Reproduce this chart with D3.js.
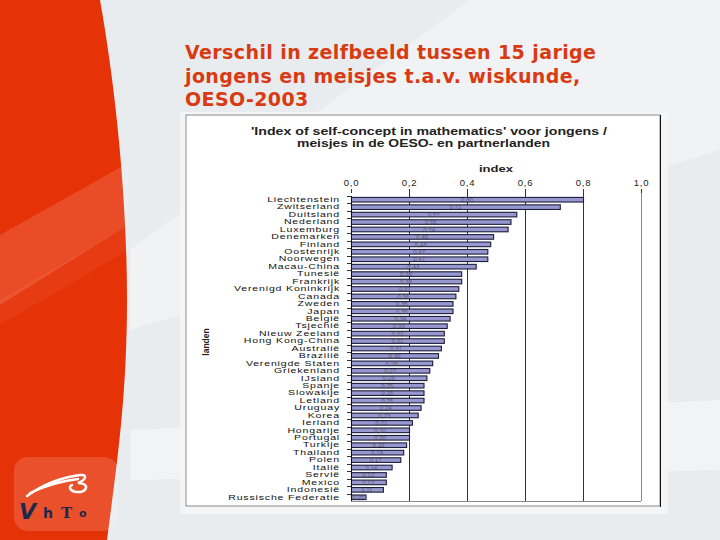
<!DOCTYPE html>
<html>
<head>
<meta charset="utf-8">
<script src="https://cdn.jsdelivr.net/npm/d3@7"></script>
<style>
  html, body { margin: 0; padding: 0; background: #e9ecef; }
  svg { display: block; }
</style>
</head>
<body>
<svg id="chart" width="720" height="540"></svg>
<script>
const countries = ["Liechtenstein","Zwitserland","Duitsland","Nederland","Luxemburg","Denemarken","Finland","Oostenrijk","Noorwegen","Macau-China","Tunesië","Frankrijk","Verenigd Koninkrijk","Canada","Zweden","Japan","België","Tsjechië","Nieuw Zeeland","Hong Kong-China","Australië","Brazilië","Verenigde Staten","Griekenland","IJsland","Spanje","Slowakije","Letland","Uruguay","Korea","Ierland","Hongarije","Portugal","Turkije","Thailand","Polen","Italië","Servië","Mexico","Indonesië","Russische Federatie"];
const values = [0.80,0.72,0.57,0.55,0.54,0.49,0.48,0.47,0.47,0.43,0.38,0.38,0.37,0.36,0.35,0.35,0.34,0.33,0.32,0.32,0.31,0.30,0.28,0.27,0.26,0.25,0.25,0.25,0.24,0.23,0.21,0.20,0.20,0.19,0.18,0.17,0.14,0.12,0.12,0.11,0.05];
const xTicks = [0,0.2,0.4,0.6,0.8,1.0];
const slideTitle = ["Verschil in zelfbeeld tussen 15 jarige","jongens en meisjes t.a.v. wiskunde,","OESO-2003"];
const chartTitle = ["'Index of self-concept in mathematics' voor jongens /","meisjes in de OESO- en partnerlanden"];
const xLabel = "index";
const yLabel = "landen";

const svg = d3.select("#chart");
const fmt = v => d3.format(".1f")(v).replace(".", ",");
const fmt2 = v => d3.format(".2f")(v).replace(".", ",");

// ---- slide background ----
svg.append("rect").attr("width",720).attr("height",540).attr("fill","#e9ecef");
svg.append("path").attr("d","M470,0 L720,0 L720,150 L130,330 L130,250 Z").attr("fill","#ffffff").attr("opacity",0.35);
svg.append("path").attr("d","M130,430 L720,400 L720,470 L130,480 Z").attr("fill","#ffffff").attr("opacity",0.4);

// red shape
svg.append("path")
  .attr("d","M0,0 H100 C116,90 127,200 127,300 C127,400 116,470 107,540 H0 Z")
  .attr("fill","#e63207");
svg.append("path")
  .attr("d","M0,235 L128,163 L128,225 L0,305 Z")
  .attr("fill","#ffffff").attr("opacity",0.13);
svg.append("path")
  .attr("d","M0,300 L128,225 L128,250 L0,325 Z")
  .attr("fill","#ffffff").attr("opacity",0.05);

// logo
svg.append("rect").attr("x",14).attr("y",457).attr("width",104).attr("height",74).attr("rx",14)
  .attr("fill","#ffffff").attr("opacity",0.15);
svg.append("path")
  .attr("d","M27,496 C45,483 65,477 80,475 C88,474 86,480 78,483 C90,483 88,493 76,492 C70,491 68,487 72,485 M30,493 C46,485 62,481 78,479")
  .attr("fill","none").attr("stroke","#ffffff").attr("stroke-width",2.5).attr("stroke-linecap","round");
const logo = svg.append("g").attr("fill","#1b2a4c").attr("font-weight","bold");
logo.append("text").attr("x",19).attr("y",519).attr("font-family","DejaVu Sans")
  .attr("font-style","italic").attr("font-size",22).text("V");
logo.append("text").attr("x",43).attr("y",518).attr("font-family","DejaVu Sans").attr("font-size",14).text("h");
logo.append("text").attr("x",61).attr("y",518).attr("font-family","DejaVu Serif").attr("font-size",15).text("T");
logo.append("text").attr("x",79).attr("y",517).attr("font-family","DejaVu Sans").attr("font-size",11).text("o");

// slide title
svg.append("g").selectAll("text").data(slideTitle).join("text")
  .attr("x",185).attr("y",(d,i)=>59 + i*23.5)
  .attr("font-family","DejaVu Sans").attr("font-weight","bold").attr("font-size",19)
  .attr("letter-spacing",0.4)
  .attr("fill","#d93a12").text(d=>d);

// ---- chart image box ----
svg.append("rect").attr("x",180).attr("y",112).attr("width",488).attr("height",402).attr("fill","#f4f5f6");
svg.append("rect").attr("x",186).attr("y",115).attr("width",474).attr("height",391)
  .attr("fill","#ffffff").attr("stroke","#8a8a8a").attr("stroke-width",1);
svg.append("line").attr("x1",660.5).attr("x2",660.5).attr("y1",115).attr("y2",507).attr("stroke","#111").attr("stroke-width",1);

const ctTitle = svg.append("g").attr("font-family","Liberation Sans, Arial").attr("font-weight","bold").attr("fill","#222");
ctTitle.append("text").attr("x",251).attr("y",135).attr("font-size",10.5).attr("textLength",356).attr("lengthAdjust","spacingAndGlyphs").text(chartTitle[0]);
ctTitle.append("text").attr("x",297).attr("y",147).attr("font-size",10.5).attr("textLength",253).attr("lengthAdjust","spacingAndGlyphs").text(chartTitle[1]);

const x = d3.scaleLinear().domain([0,1]).range([351,641]);
const y = d3.scaleBand().domain(countries).range([196,501]).paddingInner(0.38).paddingOuter(0.19);

// x label
svg.append("text").attr("x",496).attr("y",172).attr("text-anchor","middle")
  .attr("font-family","Liberation Sans, Arial").attr("font-weight","bold").attr("font-size",9.5)
  .attr("textLength",34).attr("lengthAdjust","spacingAndGlyphs")
  .attr("fill","#222").text(xLabel);

// grid
svg.append("g").selectAll("line").data(xTicks.filter(d=>d>0)).join("line")
  .attr("x1",d=>Math.round(x(d))+0.5).attr("x2",d=>Math.round(x(d))+0.5)
  .attr("y1",193).attr("y2",501)
  .attr("stroke",d=>d===1?"#8a8a8a":"#333").attr("stroke-width",1);
svg.append("line").attr("x1",351).attr("x2",641).attr("y1",501.5).attr("y2",501.5).attr("stroke","#8a8a8a");

// top axis
const gx = svg.append("g").attr("transform","translate(0,193)")
  .call(d3.axisTop(x).tickValues(xTicks).tickFormat(fmt).tickSize(4).tickPadding(3));
gx.select(".domain").remove();
gx.selectAll("line").attr("stroke","#333");
gx.selectAll("text").attr("font-family","Liberation Sans, Arial").attr("font-size",9.5)
  .attr("letter-spacing",0.8).attr("fill","#222");

// bars
svg.append("g").selectAll("rect").data(countries).join("rect")
  .attr("x",x(0)+0.5).attr("y",d=>y(d))
  .attr("width",(d,i)=>x(values[i])-x(0)).attr("height",y.bandwidth())
  .attr("fill","#9898d0").attr("stroke","#1c1c3c").attr("stroke-width",1.1);

// value labels
svg.append("g").selectAll("text").data(countries).join("text")
  .attr("x",(d,i)=>(x(0)+x(values[i]))/2).attr("y",d=>y(d)+y.bandwidth()/2+2.2)
  .attr("text-anchor","middle").attr("font-family","Liberation Sans, Arial").attr("font-size",6.2)
  .attr("fill","#444").attr("opacity",0.7).text((d,i)=>fmt2(values[i]));

// left axis (labels horizontally stretched like the reference image)
const sx = 1.65;
const gy = svg.append("g").attr("transform","translate(351,0)")
  .call(d3.axisLeft(y).tickSize(0).tickPadding(0));
gy.select(".domain").attr("d","M0.5,196V501").attr("stroke","#111");
gy.selectAll("text")
  .attr("x",-11/sx).attr("dy","0.35em")
  .attr("transform",`scale(${sx},1)`)
  .attr("font-family","Liberation Sans, Arial").attr("font-size",6.4)
  .attr("letter-spacing",0.5).attr("fill","#111");
// tick marks between categories
svg.append("g").selectAll("line").data(countries).join("line")
  .attr("x1",347).attr("x2",351)
  .attr("y1",d=>Math.round(y(d)-y.step()*y.paddingInner()/2)+0.5)
  .attr("y2",d=>Math.round(y(d)-y.step()*y.paddingInner()/2)+0.5)
  .attr("stroke","#333");

// y label
svg.append("text").attr("transform","translate(209,342) rotate(-90)").attr("text-anchor","middle")
  .attr("font-family","Liberation Sans, Arial").attr("font-size",8.5).attr("font-weight","bold")
  .attr("fill","#222").text(yLabel);
</script>
</body>
</html>
